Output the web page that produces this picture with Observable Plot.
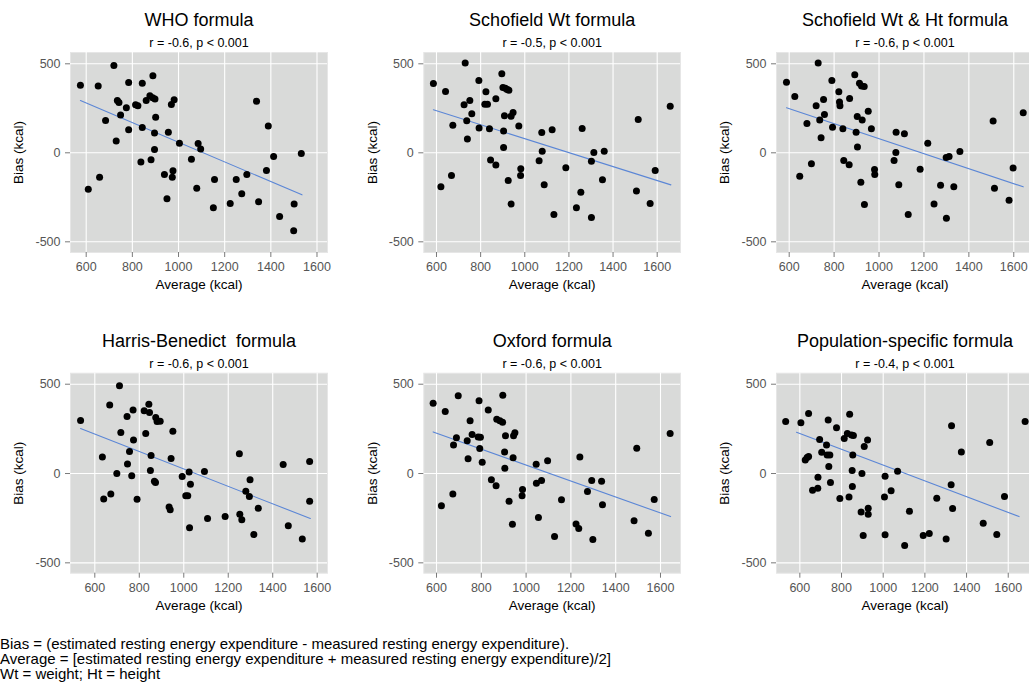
<!DOCTYPE html>
<html>
<head>
<meta charset="utf-8">
<script src="https://cdn.jsdelivr.net/npm/d3@7"></script>
<script src="https://cdn.jsdelivr.net/npm/@observablehq/plot@0.6"></script>
<style>
html, body { margin: 0; padding: 0; background: #fff; overflow: hidden; }
#chart { position: relative; width: 1029px; height: 683px; overflow: hidden;
  font-family: "Liberation Sans", Arial, Helvetica, sans-serif; }
.panel { position: absolute; }
#caption { position: absolute; left: 0px; top: 636px; font-size: 15px; line-height: 15px;
  color: #000; white-space: nowrap; }
</style>
</head>
<body>
<div id="chart"></div>
<script>
// ---------- data ----------
const titles = ["WHO formula", "Schofield Wt formula", "Schofield Wt & Ht formula",
  "Harris-Benedict  formula", "Oxford formula", "Population-specific formula"];
const subtitles = ["r = -0.6, p < 0.001", "r = -0.5, p < 0.001", "r = -0.6, p < 0.001",
  "r = -0.6, p < 0.001", "r = -0.6, p < 0.001", "r = -0.4, p < 0.001"];
const xLabel = "Average (kcal)";
const yLabel = "Bias (kcal)";
const xTicks = [600, 800, 1000, 1200, 1400, 1600];
const yTicks = [-500, 0, 500];

const whoX = [575,609,652,658,684,720,730,735,742,749,774,784,784,814,824,843,843,837,860,876,889,888,898,881,896,901,896,939,950,956,969,981,976,973,1004,1056,1085,1096,1079,1156,1151,1224,1250,1274,1296,1338,1347,1381,1389,1412,1438,1501,1499,1532];
const whoY = [380,-204,375,-137,182,491,66,294,283,212,253,395,129,270,264,391,142,-51,294,320,433,309,302,-39,111,200,19,-122,-258,116,272,298,-101,-137,54,-36,52,22,-199,-150,-309,-285,-150,-230,-122,290,-275,-99,150,-21,-358,-288,-438,-4];

const schWtX = [586,620,641,668,674,725,730,737,740,751,760,792,793,819,824,831,840,845,869,869,896,901,908,904,904,912,920,928,925,938,947,938,973,982,981,1065,1077,1079,1088,1124,1132,1186,1234,1254,1260,1302,1302,1313,1352,1360,1506,1514,1568,1591,1659];
const schWtY = [390,-191,345,-127,155,270,504,180,77,294,219,406,139,273,343,273,135,-41,303,-69,444,367,208,122,30,363,356,352,-155,206,227,-288,150,-90,-127,-45,114,9,-180,129,-346,-84,-309,-221,137,-47,-363,2,-152,9,-214,187,-285,-99,262];

const schWtHtX = [588,625,647,679,699,720,729,736,742,753,757,790,793,821,824,826,839,843,869,867,892,898,903,904,913,922,925,934,919,952,935,966,980,981,1067,1076,1075,1088,1113,1130,1183,1217,1245,1274,1300,1299,1312,1333,1360,1508,1514,1579,1597,1642];
const schWtHtY = [397,317,-131,165,-62,264,504,184,84,300,215,406,144,343,285,264,135,-43,305,-67,438,116,204,32,391,376,185,373,-165,234,-290,135,-94,-122,-43,116,2,-180,107,-346,-92,54,-288,-182,-367,-26,-21,-191,7,178,-199,-266,-86,225];

const harrisX = [536,634,640,667,672,699,711,717,745,747,756,766,772,774,790,822,829,843,846,850,853,868,873,874,880,894,934,939,943,951,993,1009,1018,1024,1026,1030,1093,1107,1186,1250,1252,1261,1279,1295,1298,1315,1335,1447,1470,1533,1566,1566];
const harrisY = [297,93,-142,383,-114,0,491,230,319,54,123,-13,356,187,-144,351,224,388,341,17,101,-43,-50,313,291,293,-187,-203,84,237,-17,-125,-125,9,-304,-60,11,-252,-241,110,-228,-259,-99,-129,-35,-341,-194,50,-293,-366,67,-155];

const oxfordX = [585,622,639,673,676,689,697,737,741,750,759,786,790,793,796,804,831,845,866,869,883,895,896,904,905,908,924,939,942,944,950,984,982,1045,1046,1069,1055,1096,1127,1158,1223,1235,1240,1274,1293,1298,1337,1341,1482,1494,1546,1572,1643];
const oxfordY = [394,-181,347,-114,160,200,435,183,82,295,218,205,407,140,203,63,356,-35,-69,304,295,287,438,121,30,211,-155,-284,88,211,228,-90,-125,52,-54,-39,-246,71,-353,-147,-282,-308,93,-101,-39,-369,-43,-175,-265,142,-334,-146,224];

const popX = [532,605,626,635,642,642,661,686,687,695,705,728,731,736,739,744,747,776,792,813,828,836,839,848,857,851,852,854,894,898,904,909,925,928,928,1006,1009,1009,1038,1069,1103,1126,1192,1221,1257,1302,1328,1326,1333,1375,1480,1511,1545,1582,1681];
const popY = [291,284,75,90,336,95,-93,-82,-21,190,119,160,103,300,39,103,-50,256,-140,196,224,-131,332,216,213,17,-73,103,-215,0,-347,151,187,-228,-194,-131,-343,-15,-97,13,-403,-211,-347,-336,-138,-366,267,-63,-196,121,-278,174,-341,-129,291];

// fitted line end points (x from, x to; y from, y to)
const lineX = [[575,1535],[586,1662],[588,1642],[536,1569],[585,1645],[584,1652]];
const lineY = [[294,-236],[242,-180],[253,-191],[252,-252],[233,-241],[231,-241]];

const captionLines = [
  "Bias = (estimated resting energy expenditure - measured resting energy expenditure).",
  "Average = [estimated resting energy expenditure + measured resting energy expenditure)/2]",
  "Wt = weight; Ht = height"
];

const seriesX = [whoX, schWtX, schWtHtX, harrisX, oxfordX, popX];
const seriesY = [whoY, schWtY, schWtHtY, harrisY, oxfordY, popY];

// ---------- layout ----------
const cols = [
  {left: 0, mL: 70, mR: 18, yTitleX: 18.3},
  {left: 345, mL: 78.3, mR: 10, yTitleX: 26.7},
  {left: 690, mL: 86, mR: 2, yTitleX: 34.3}
];
const rows = [
  {top: 0, h: 300, mT: 52, mB: 48, yDomain: [-560, 563.5]},
  {top: 300, h: 310, mT: 72.7, mB: 37.3, yDomain: [-558, 561.6]}
];
const xDomains = [[532, 1645.5], [542.5, 1705.6], [543.5, 1687.8], [490.7, 1646.3], [543.3, 1689.3], [488, 1721.2]];

const chart = document.getElementById("chart");
const font = "'Liberation Sans', Arial, Helvetica, sans-serif";

for (let i = 0; i < 6; i++) {
  const c = cols[i % 3], r = rows[Math.floor(i / 3)];
  const pts = seriesX[i].map((x, k) => ({x, y: seriesY[i][k]}));
  const fit = lineX[i].map((x, k) => ({x, y: lineY[i][k]}));
  const svg = Plot.plot({
    width: 345, height: r.h,
    marginLeft: c.mL, marginRight: c.mR, marginTop: r.mT, marginBottom: r.mB,
    style: {fontFamily: font, background: "transparent", overflow: "visible"},
    x: {domain: xDomains[i], label: null},
    y: {domain: r.yDomain, label: null},
    marks: [
      Plot.frame({fill: "#d9dad9", stroke: "#e6e6e6", strokeWidth: 1}),
      Plot.gridX({ticks: xTicks, stroke: "#ffffff", strokeOpacity: 1, strokeWidth: 1.1}),
      Plot.gridY({ticks: yTicks, stroke: "#ffffff", strokeOpacity: 1, strokeWidth: 1.1}),
      Plot.axisX({ticks: xTicks, tickSize: 5, tickPadding: 5, fontSize: 12.5, stroke: "#7a7a7a", fill: "#555555", label: null, tickFormat: d => String(d)}),
      Plot.axisY({ticks: yTicks, tickSize: 5, tickPadding: 5, fontSize: 12.5, stroke: "#7a7a7a", fill: "#555555", label: null, tickFormat: d => String(d)}),
      Plot.line(fit, {x: "x", y: "y", stroke: "#5b86d6", strokeWidth: 1.1}),
      Plot.dot(pts, {x: "x", y: "y", r: 3.5, fill: "#000000", stroke: "none"}),
      Plot.text([titles[i]], {text: d => d, frameAnchor: "top", lineAnchor: "middle", textAnchor: "middle", dy: -32, fontSize: 18, fill: "#000"}),
      Plot.text([subtitles[i]], {text: d => d, frameAnchor: "top", lineAnchor: "middle", textAnchor: "middle", dy: -9.5, fontSize: 12.5, fill: "#000"}),
      Plot.text([xLabel], {text: d => d, frameAnchor: "bottom", lineAnchor: "middle", textAnchor: "middle", dy: 32, fontSize: 13.5, fill: "#000"}),
      Plot.text([yLabel], {text: d => d, frameAnchor: "left", lineAnchor: "middle", textAnchor: "middle", dx: -(c.mL - c.yTitleX), rotate: -90, fontSize: 13.5, fill: "#000"})
    ]
  });
  svg.classList.add("panel");
  svg.style.left = c.left + "px";
  svg.style.top = r.top + "px";
  chart.appendChild(svg);
}

const cap = document.createElement("div");
cap.id = "caption";
cap.innerHTML = captionLines.map(s => s.replace(/&/g, "&amp;").replace(/</g, "&lt;")).join("<br>");
chart.appendChild(cap);
</script>
</body>
</html>
